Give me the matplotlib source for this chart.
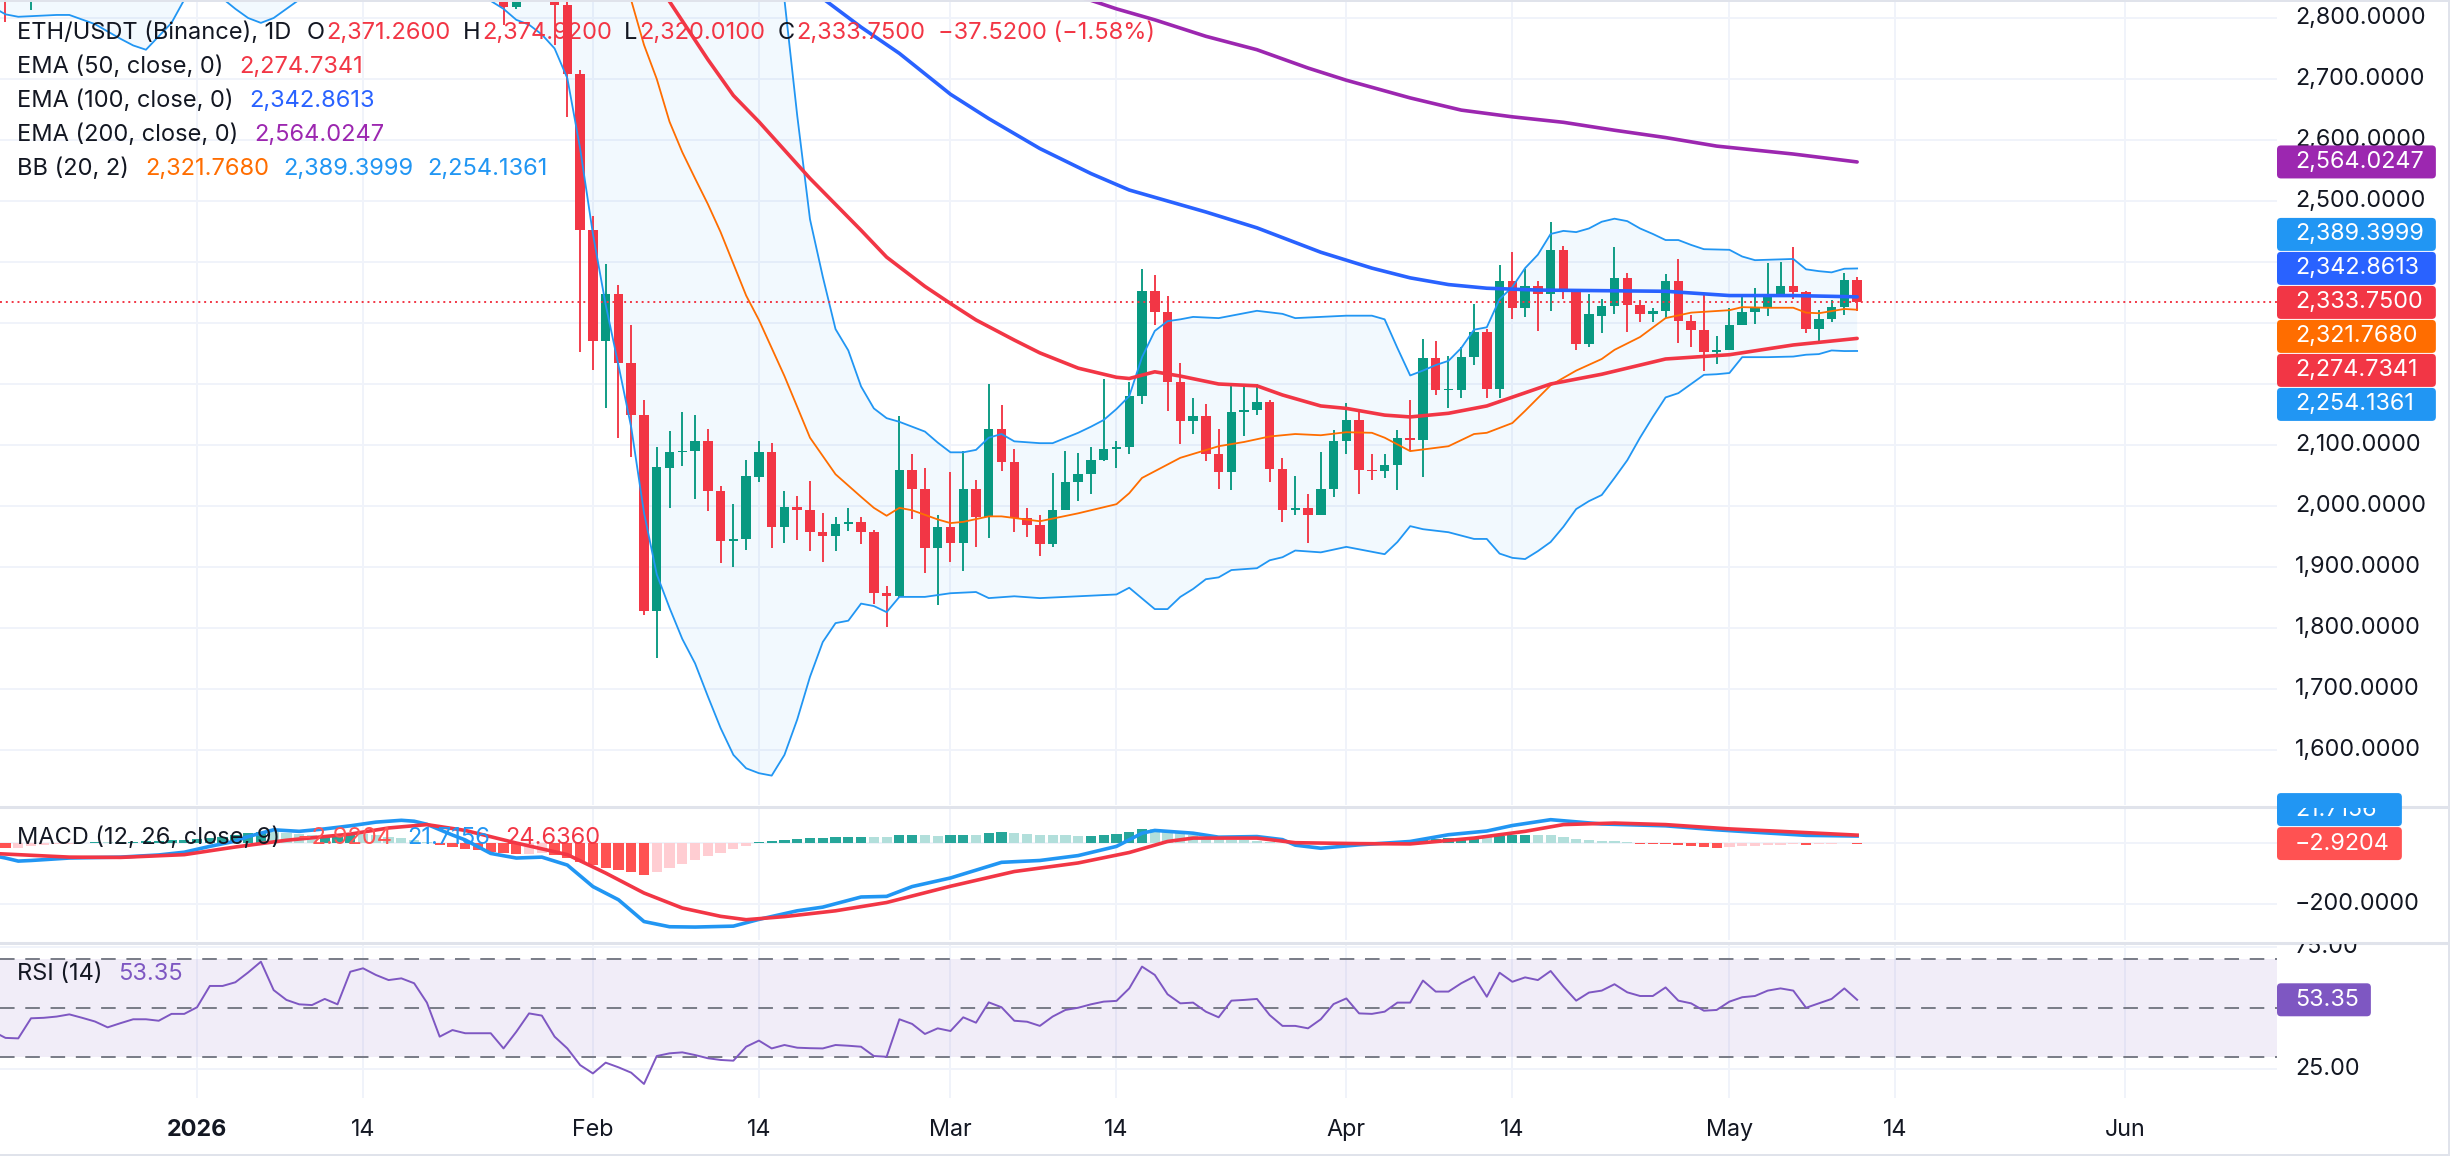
import numpy as np
import pandas as pd
import matplotlib
matplotlib.use("Agg")
import matplotlib.pyplot as plt
import matplotlib.dates as mdates
from matplotlib.patches import FancyBboxPatch
from matplotlib.transforms import Bbox

plt.rcParams['font.family'] = ['Inter', 'DejaVu Sans']
nan = np.nan

# ======================= DATA =======================
symbol_title = "ETH/USDT (Binance), 1D"
base_date = "2026-01-01"          # day offsets below are counted from this date

# daily candles, 2026-01-25 .. 2026-05-11 (nan = candle above the visible range)
candle_start = "2026-01-25"
c_open = [2845, 2818, nan, nan, 2862, 2822, 2709, 2453, 2271, 2347,
          2234, 2149, 1828, 2063, 2088, 2090, 2106, 2024, 1942, 1946,
          2048, 2088, 1966, 1999, 1993, 1957, 1951, 1971, 1973, 1958,
          1857, 1852, 2059, 2028, 1931, 1966, 1940, 2028, 1982, 2127,
          2072, 1980, 1969, 1937, 1993, 2039, 2052, 2075, 2093, 2097,
          2180, 2353, 2318, 2204, 2139, 2147, 2086, 2055, 2154, 2157,
          2170, 2061, 1993, 1997, 1986, 2028, 2107, 2141, 2059, 2057,
          2068, 2112, 2109, 2242, 2190, 2190, 2245, 2285, 2192, 2369,
          2324, 2361, 2347, 2420, 2351, 2265, 2311, 2328, 2374, 2329,
          2315, 2320, 2369, 2304, 2289, 2253, 2256, 2296, 2318, 2324,
          2347, 2361, 2351, 2290, 2307, 2327, 2371.26]
c_high = [2880, 2870, nan, nan, 2890, 2840, 2714, 2475, 2397, 2362,
          2296, 2174, 2096, 2123, 2154, 2149, 2126, 2033, 2003, 2075,
          2106, 2104, 2024, 2016, 2041, 1988, 1982, 1997, 1982, 1960,
          1869, 2148, 2085, 2063, 1985, 2055, 2090, 2042, 2200, 2165,
          2093, 1997, 1985, 2054, 2090, 2087, 2096, 2209, 2106, 2204,
          2388, 2378, 2345, 2234, 2177, 2167, 2127, 2200, 2198, 2200,
          2174, 2079, 2050, 2020, 2088, 2125, 2169, 2154, 2085, 2086,
          2125, 2174, 2274, 2271, 2246, 2260, 2331, 2290, 2395, 2417,
          2389, 2369, 2466, 2427, 2356, 2347, 2339, 2425, 2382, 2338,
          2325, 2380, 2405, 2313, 2347, 2279, 2325, 2344, 2358, 2398,
          2400, 2425, 2353, 2321, 2338, 2382, 2374.92]
c_low = [2789, 2815, nan, nan, 2756, 2638, 2252, 2223, 2160, 2112,
         2081, 1822, 1751, 1997, 2066, 2012, 1991, 1906, 1900, 1928,
         2040, 1931, 1939, 1944, 1926, 1909, 1926, 1959, 1937, 1840,
         1801, 1851, 1979, 1890, 1838, 1909, 1893, 1933, 1947, 2057,
         1958, 1950, 1918, 1933, 1993, 2009, 2019, 2074, 2063, 2086,
         2167, 2296, 2156, 2101, 2118, 2074, 2028, 2026, 2115, 2149,
         2039, 1974, 1986, 1940, 1985, 2014, 2085, 2019, 2043, 2046,
         2026, 2090, 2047, 2182, 2160, 2177, 2231, 2177, 2177, 2306,
         2310, 2287, 2320, 2340, 2255, 2260, 2284, 2315, 2285, 2301,
         2301, 2308, 2268, 2260, 2222, 2232, 2256, 2296, 2298, 2311,
         2347, 2340, 2283, 2267, 2302, 2313, 2320.01]
c_close = [2818, 2850, nan, nan, 2822, 2709, 2453, 2271, 2347, 2234,
           2149, 1828, 2064, 2088, 2090, 2106, 2024, 1942, 1946, 2050,
           2088, 1966, 1999, 1993, 1957, 1951, 1971, 1973, 1958, 1857,
           1852, 2059, 2028, 1931, 1966, 1940, 2028, 1982, 2127, 2072,
           1980, 1969, 1937, 1993, 2039, 2052, 2075, 2093, 2097, 2180,
           2353, 2318, 2204, 2139, 2147, 2086, 2055, 2154, 2157, 2170,
           2061, 1993, 1997, 1986, 2028, 2107, 2141, 2059, 2057, 2068,
           2112, 2109, 2242, 2190, 2192, 2245, 2285, 2192, 2369, 2324,
           2361, 2347, 2420, 2351, 2265, 2315, 2328, 2374, 2329, 2315,
           2320, 2369, 2304, 2289, 2253, 2256, 2296, 2318, 2324, 2347,
           2361, 2351, 2290, 2307, 2327, 2371.27, 2333.75]

# December candles whose lower wicks reach into the top of the chart
dec_dates = ["2025-12-17", "2025-12-19"]
dec_open = [2868, 2840]
dec_high = [2900, 2880]
dec_low = [2793, 2813]
dec_close = [2850, 2862]

# EMA 50
ema50_days = [36, 37, 40, 42, 44, 48, 52, 54, 57, 59, 61, 64, 66, 69, 72, 73, 75, 77, 80,
              83, 85, 88, 90, 93, 95, 98, 101, 106, 110, 115, 120, 125, 130]
ema50_vals = [2858, 2827, 2732, 2673, 2630, 2537, 2452, 2408, 2360, 2332, 2305, 2272, 2251,
              2226, 2211, 2209, 2220, 2213, 2200, 2197, 2182, 2164, 2160, 2149, 2146, 2152,
              2164, 2200, 2216, 2241, 2248, 2264, 2274.7341]
# EMA 100
ema100_days = [48, 49, 52, 55, 59, 62, 66, 70, 73, 76, 79, 83, 88, 92, 95, 98, 101, 105,
               110, 115, 120, 125, 130]
ema100_vals = [2850, 2832, 2785, 2742, 2675, 2635, 2586, 2545, 2518, 2500, 2482, 2456, 2416,
               2390, 2374, 2363, 2357, 2354, 2353, 2352, 2345, 2345, 2342.8613]
# EMA 200
ema200_days = [68, 70, 72, 75, 79, 83, 87, 90, 95, 99, 103, 107, 111, 115, 119, 125, 130]
ema200_vals = [2838, 2829, 2815, 2797, 2770, 2748, 2718, 2698, 2669, 2649, 2638, 2629, 2616,
               2604, 2590, 2577, 2564.0247]
# Bollinger basis
bb_mid_days = [33, 34, 35, 36, 37, 38, 39, 40, 41, 43, 44, 46, 48, 50, 52, 53, 54, 55, 56, 58,
               59, 60, 62, 63, 66, 69, 72, 73, 74, 77, 80, 82, 84, 86, 88, 90, 92, 93, 95,
               98, 100, 101, 103, 104, 106, 108, 110, 111, 113, 115, 117, 120, 121, 123,
               125, 126, 127, 129, 130]
bb_mid_vals = [2850, 2829, 2756, 2700, 2630, 2580, 2537, 2495, 2449, 2345, 2305, 2213, 2112,
               2052, 2015, 1997, 1984, 1997, 1993, 1978, 1972, 1974, 1983, 1983, 1975, 1988,
               2003, 2021, 2046, 2079, 2098, 2105, 2114, 2118, 2116, 2121, 2120, 2112, 2090,
               2098, 2118, 2120, 2136, 2156, 2198, 2222, 2241, 2256, 2277, 2308, 2317, 2321,
               2326, 2325, 2325, 2317, 2316, 2323, 2321.7680]
# Bollinger upper band
bb_up_days = [-16, 44, 45, 46, 47, 48, 49, 50, 51, 52, 53, 54, 55, 56, 57, 58, 59, 60, 61, 62,
              63, 64, 66, 67, 69, 70, 71, 72, 73, 74, 75, 76, 77, 78, 80, 83, 85, 86, 88, 90,
              92, 93, 94, 95, 96, 97, 98, 99, 100, 101, 102, 103, 104, 105, 106, 107, 108,
              109, 110, 111, 112, 113, 114, 115, 116, 117, 118, 120, 121, 122, 125, 126,
              127, 128, 129, 130]
bb_up_vals = [3250, 3080, 2960, 2830, 2640, 2470, 2376, 2290, 2255, 2196, 2160, 2144, 2138,
              2130, 2122, 2104, 2088, 2088, 2092, 2112, 2118, 2106, 2103, 2103, 2120, 2130,
              2141, 2159, 2180, 2244, 2287, 2303, 2306, 2310, 2308, 2320, 2315, 2308, 2310,
              2312, 2312, 2306, 2259, 2214, 2222, 2231, 2238, 2259, 2289, 2293, 2339, 2359,
              2390, 2412, 2446, 2451, 2449, 2455, 2466, 2471, 2467, 2455, 2446, 2436, 2436,
              2428, 2421, 2420, 2409, 2403, 2405, 2388, 2385, 2383, 2389, 2389.3999]
# Bollinger lower band
bb_lo_days = [-16, -15, -14, -13, -12, -11, -10, -8, -6, -5, -4, -3, -2, -1, 0, 1, 2, 3, 4, 5,
              6, 7, 8, 9, 15, 22, 23, 24, 25, 26, 27, 28, 29, 30, 31, 32, 33, 34, 35, 36, 37,
              38, 39, 40, 41, 42, 43, 44, 45, 46, 47, 48, 49, 50, 51, 52, 53, 54, 55, 57, 59,
              61, 62, 64, 66, 69, 72, 73, 75, 76, 77, 78, 79, 80, 81, 83, 84, 85, 86, 88, 90,
              93, 94, 95, 96, 98, 100, 101, 102, 103, 104, 105, 106, 107, 108, 109, 110, 111,
              112, 113, 114, 115, 116, 117, 118, 119, 120, 121, 123, 125, 126, 127, 128, 129,
              130]
bb_lo_vals = [2818, 2806, 2802, 2803, 2804, 2805, 2805, 2790, 2766, 2755, 2748, 2770, 2792,
              2830, 2850, 2845, 2832, 2815, 2800, 2792, 2800, 2815, 2830, 2848, 2880, 2850,
              2828, 2815, 2797, 2789, 2773, 2750, 2701, 2586, 2446, 2330, 2231, 2129, 1989,
              1888, 1833, 1782, 1742, 1688, 1636, 1592, 1570, 1562, 1558, 1592, 1650, 1720,
              1777, 1808, 1812, 1840, 1836, 1826, 1851, 1851, 1857, 1859, 1849, 1852, 1849,
              1852, 1855, 1866, 1831, 1831, 1851, 1864, 1880, 1883, 1895, 1898, 1911, 1916,
              1927, 1924, 1933, 1921, 1941, 1967, 1962, 1957, 1946, 1946, 1922, 1915, 1913,
              1926, 1941, 1966, 1995, 2008, 2018, 2046, 2075, 2112, 2146, 2178, 2185, 2200,
              2215, 2216, 2218, 2244, 2244, 2245, 2248, 2249, 2255, 2254, 2254.1361]

# MACD (12, 26, 9)
macd_days = [-16, -15, -14, -13, -10, -6, -3, -1, 1, 3, 4, 6, 8, 10, 12, 14, 16, 17, 18, 20,
             21, 23, 25, 27, 29, 31, 33, 35, 37, 39, 42, 44, 47, 49, 52, 54, 56, 59, 63, 66,
             69, 72, 74, 75, 78, 80, 83, 85, 86, 88, 91, 95, 98, 101, 103, 106, 108, 110,
             115, 119, 122, 126, 130]
macd_vals = [-42, -50, -60, -58, -50, -47, -40, -31, -12, 5, 20, 42, 37, 45, 55, 67, 73, 70,
             60, 25, 9, -35, -50, -47, -73, -143, -186, -257, -274, -275, -272, -250, -222,
             -210, -177, -175, -143, -115, -64, -58, -42, -12, 31, 40, 31, 18, 20, 10, -8,
             -18, -7, 4, 26, 38, 56, 75, 68, 61, 55, 42, 34, 24, 21.7156]
signal_days = [-16, -10, -6, -1, 3, 7, 12, 15, 18, 21, 25, 29, 32, 35, 38, 41, 43, 46, 50, 54,
               59, 64, 69, 73, 76, 78, 83, 86, 91, 95, 100, 104, 107, 111, 115, 120, 124, 130]
signal_vals = [-35, -47, -48, -39, -14, 8, 28, 48, 59, 40, -1, -39, -99, -164, -213, -240,
               -251, -241, -222, -195, -142, -94, -66, -32, 4, 15, 15, 0, -3, -4, 15, 37, 59,
               64, 59, 45, 37, 24.6360]
# histogram, one bar per day from day -15 to day 130
hist_start_day = -15
hist_vals = [-17, -16, -12, -8, -5, -3, -1, 1, 1, 2,
             3, 4, 6, 8, 10, 12, 16, 20, 24, 30,
             36, 34, 30, 27, 25, 26, 27, 30, 28, 24,
             20, 16, 10, 2, -6, -14, -20, -24, -30, -35,
             -38, -36, -33, -40, -50, -62, -74, -82, -88, -96,
             -105, -95, -82, -70, -58, -45, -34, -22, -10, 3,
             6, 9, 12, 14, 16, 17, 18, 20, 19, 18,
             25, 26, 24, 23, 24, 26, 25, 32, 34, 30,
             28, 25, 24, 24, 22, 23, 24, 27, 35, 44,
             44, 37, 30, 24, 17, 12, 10, 9, 7, 3,
             -2, -3, -4, -3, -1, 1, 2, 2, 3, 5,
             7, 10, 13, 14, 15, 17, 17, 21, 24, 25,
             25, 24, 19, 13, 9, 6, 5, 3, -3, -5,
             -5, -8, -10, -14, -17, -14, -12, -10, -8, -6,
             -5, -6, -5, -3, -2, -2.9204]

# RSI (14), one value per day from day -16 to day 130
rsi_start_day = -16
rsi_vals = [40.5, 37.8, 37.6, 45.8, 46.0, 46.5, 47.4, 46.0, 44.5, 42.1,
            43.8, 45.4, 45.4, 44.8, 47.6, 47.6, 50.3, 59.0, 59.0, 60.5,
            64.5, 68.9, 57.3, 53.3, 51.5, 51.2, 53.7, 51.5, 64.8, 66.2,
            63.5, 61.4, 62.1, 60.1, 52.2, 38.3, 41.0, 39.7, 39.7, 39.7,
            33.5, 40.3, 47.8, 46.9, 38.3, 33.5, 26.7, 23.3, 27.7, 25.8,
            23.6, 19.0, 30.4, 31.5, 31.9, 30.8, 29.5, 28.8, 28.5, 34.2,
            36.7, 33.5, 34.9, 33.8, 33.6, 33.5, 34.9, 34.6, 34.2, 30.4,
            30.1, 45.4, 43.5, 39.4, 41.7, 40.6, 46.2, 44.0, 52.3, 50.3,
            44.8, 44.4, 42.7, 46.5, 49.2, 50.1, 51.5, 52.6, 52.9, 58.0,
            66.9, 63.5, 55.6, 51.9, 52.2, 48.5, 46.2, 53.0, 53.3, 53.7,
            47.1, 42.7, 42.7, 41.7, 45.4, 51.6, 53.9, 47.8, 47.6, 48.5,
            52.2, 52.2, 61.2, 56.7, 56.7, 60.1, 62.8, 54.6, 64.4, 60.7,
            62.5, 61.4, 65.1, 58.7, 53.0, 56.3, 57.1, 59.7, 56.4, 54.9,
            54.9, 58.4, 53.0, 51.9, 48.9, 49.2, 52.6, 54.4, 54.9, 57.1,
            58.0, 57.1, 50.1, 51.9, 53.7, 58.0, 53.35]

# time axis
tick_dates = ["2026-01-01", "2026-01-14", "2026-02-01", "2026-02-14", "2026-03-01",
              "2026-03-14", "2026-04-01", "2026-04-14", "2026-05-01", "2026-05-14",
              "2026-06-01"]
tick_labels = ["2026", "14", "Feb", "14", "Mar", "14", "Apr", "14", "May", "14", "Jun"]
price_ticks = [1600, 1700, 1800, 1900, 2000, 2100, 2200, 2300, 2400, 2500, 2600, 2700, 2800]
macd_ticks = [-200]
rsi_ticks = [75, 25]

# ======================= STYLE / LAYOUT =======================
W, H = 2450, 1156
UP, DOWN = '#089981', '#F23645'
TXT = '#131722'
GRID = '#F0F3FA'
SEP = '#E0E3EB'
C_EMA50, C_EMA100, C_EMA200 = '#F23645', '#2962FF', '#9C27B0'
C_BBM, C_BB = '#FF6D00', '#2196F3'
C_MACD, C_SIG = '#2196F3', '#F23645'
C_RSI = '#7E57C2'
FS_AX = 16.8
FS_LG = 17.0

base = mdates.date2num(pd.Timestamp(base_date))


def dn(days):
    return base + np.asarray(days, dtype=float)


fig = plt.figure(figsize=(W / 100, H / 100), dpi=100)
fig.patch.set_facecolor('white')


def add_px_axes(left, top, right, bottom):
    return fig.add_axes([left / W, 1 - bottom / H, (right - left) / W, (bottom - top) / H])


PLOT_R = 2277
ax_p = add_px_axes(0, 0, PLOT_R, 805)
ax_m = add_px_axes(0, 808, PLOT_R, 940)
ax_s = add_px_axes(0, 944, PLOT_R, 1098)
for ax in (ax_p, ax_m, ax_s):
    ax.set_xlim(dn(-15.43), dn(162.88))
    ax.set_axis_off()
ax_p.set_ylim(1509.84, 2829.51)
ax_m.set_ylim(-317.2, 113.1)
ax_s.set_ylim(13.27, 76.12)

tick_x = mdates.date2num(pd.to_datetime(tick_dates))
for ax in (ax_p, ax_m, ax_s):
    for tx in tick_x:
        ax.axvline(tx, color=GRID, lw=1.4, zorder=0)
for p in price_ticks:
    ax_p.axhline(p, color=GRID, lw=1.4, zorder=0)
for v in [0] + macd_ticks:
    ax_m.axhline(v, color=GRID, lw=1.4, zorder=0)
for v in rsi_ticks:
    ax_s.axhline(v, color=GRID, lw=1.4, zorder=0)

# ---- Bollinger bands ----
ax_p.fill(np.concatenate([dn(bb_up_days), dn(bb_lo_days)[::-1]]),
          np.concatenate([bb_up_vals, bb_lo_vals[::-1]]),
          color=C_BB, alpha=0.055, lw=0, zorder=1)
ax_p.plot(dn(bb_up_days), bb_up_vals, color=C_BB, lw=1.3, zorder=5)
ax_p.plot(dn(bb_lo_days), bb_lo_vals, color=C_BB, lw=1.3, zorder=5)
ax_p.plot(dn(bb_mid_days), bb_mid_vals, color=C_BBM, lw=1.3, zorder=5)

# ---- candles ----
cx = mdates.date2num(pd.date_range(candle_start, periods=len(c_open)))
dx = mdates.date2num(pd.to_datetime(dec_dates))
X = np.concatenate([dx, cx])
O = np.concatenate([dec_open, c_open]).astype(float)
Hh = np.concatenate([dec_high, c_high]).astype(float)
L = np.concatenate([dec_low, c_low]).astype(float)
C = np.concatenate([dec_close, c_close]).astype(float)
ok = ~np.isnan(O)
X, O, Hh, L, C = X[ok], O[ok], Hh[ok], L[ok], C[ok]
cols = np.where(C >= O, UP, DOWN)
ax_p.vlines(X, L, Hh, colors=cols, lw=1.35, zorder=3)
body_lo = np.minimum(O, C)
body_h = np.maximum(np.abs(C - O), 2.6)
ax_p.bar(X, body_h, bottom=body_lo, width=0.74, color=cols, lw=0, zorder=4)

# ---- EMAs ----
ax_p.plot(dn(ema200_days), ema200_vals, color=C_EMA200, lw=2.6, zorder=6, solid_capstyle='round')
ax_p.plot(dn(ema100_days), ema100_vals, color=C_EMA100, lw=2.6, zorder=6, solid_capstyle='round')
ax_p.plot(dn(ema50_days), ema50_vals, color=C_EMA50, lw=2.6, zorder=6, solid_capstyle='round')

# current price line
ax_p.axhline(c_close[-1], color=DOWN, lw=1.4, ls=(0, (1, 2)), zorder=7)

# ---- MACD ----
hx = dn(np.arange(hist_start_day, hist_start_day + len(hist_vals)))
hcols = []
prev = hist_vals[0]
for v in hist_vals:
    if v >= 0:
        hcols.append('#26A69A' if v > prev else '#B2DFDB')
    else:
        hcols.append('#FFCDD2' if v > prev else '#FF5252')
    prev = v
ax_m.bar(hx, hist_vals, width=0.8, color=hcols, lw=0, zorder=2)
ax_m.plot(dn(macd_days), macd_vals, color=C_MACD, lw=2.6, zorder=3)
ax_m.plot(dn(signal_days), signal_vals, color=C_SIG, lw=2.6, zorder=4)

# ---- RSI ----
ax_s.axhspan(30, 70, color=C_RSI, alpha=0.1, lw=0, zorder=1)
for lv in (70, 50, 30):
    ax_s.axhline(lv, color='#787B86', lw=1.4, ls=(0, (7.5, 5.5)), zorder=2)
rx = dn(np.arange(rsi_start_day, rsi_start_day + len(rsi_vals)))
ax_s.plot(rx, rsi_vals, color=C_RSI, lw=1.4, zorder=3)

# ======================= OVERLAY (texts, scale labels) =======================
ov = fig.add_axes([0, 0, 1, 1])
ov.set_xlim(0, W)
ov.set_ylim(H, 0)
ov.set_axis_off()
ov.set_zorder(20)
ov.patch.set_visible(False)
renderer = fig.canvas.get_renderer()


def to_py(ax, y):
    return H - ax.transData.transform((ax.get_xlim()[0], y))[1]


def clip_bb(top, bottom, left=0, right=W):
    return Bbox.from_extents(left, H - bottom, right, H - top)


def segs(x, y, parts, size=FS_LG):
    for txt, col, gap in parts:
        t = ov.text(x, y, txt, color=col, fontsize=size, ha='left', va='center')
        x += t.get_window_extent(renderer).width + gap


def fmt(v, nd=4):
    s = f"{v:,.{nd}f}"
    return s.replace('-', '\u2212')


# legends
o_, h_, l_, c_ = c_open[-1], c_high[-1], c_low[-1], c_close[-1]
chg = c_close[-1] - c_close[-2]
pct = chg / c_close[-2] * 100
segs(17, 33, [(symbol_title, TXT, 15), ('O', TXT, 2), (fmt(o_), DOWN, 12), ('H', TXT, 2),
              (fmt(h_), DOWN, 12), ('L', TXT, 2), (fmt(l_), DOWN, 12), ('C', TXT, 2),
              (fmt(c_), DOWN, 13), (f"{fmt(chg)} ({fmt(pct, 2)}%)", DOWN, 0)])
segs(17, 67, [('EMA (50, close, 0)', TXT, 16), (fmt(ema50_vals[-1]), C_EMA50, 0)])
segs(17, 101, [('EMA (100, close, 0)', TXT, 16), (fmt(ema100_vals[-1]), C_EMA100, 0)])
segs(17, 135, [('EMA (200, close, 0)', TXT, 16), (fmt(ema200_vals[-1]), C_EMA200, 0)])
segs(17, 169, [('BB (20, 2)', TXT, 16), (fmt(bb_mid_vals[-1]), C_BBM, 14),
               (fmt(bb_up_vals[-1]), C_BB, 14), (fmt(bb_lo_vals[-1]), C_BB, 0)])
segs(17, 838, [('MACD (12, 26, close, 9)', TXT, 16), (fmt(hist_vals[-1]), '#FF5252', 15),
               (fmt(macd_vals[-1]), C_MACD, 15), (fmt(signal_vals[-1]), C_SIG, 0)])
segs(17, 974, [('RSI (14)', TXT, 16), (fmt(rsi_vals[-1], 2), C_RSI, 0)])

# right scale
LX = 2295
main_clip = clip_bb(0, 805, PLOT_R, W)
macd_clip = clip_bb(808, 940, PLOT_R, W)
rsi_clip = clip_bb(944, 1098, PLOT_R, W)


def stack(items, anchor_idx, spacing=34):
    # items ordered top->bottom; returns pixel centres that avoid overlap
    ys = [None] * len(items)
    ys[anchor_idx] = items[anchor_idx][2]
    for i in range(anchor_idx - 1, -1, -1):
        ys[i] = min(items[i][2], ys[i + 1] - spacing)
    for i in range(anchor_idx + 1, len(items)):
        ys[i] = max(items[i][2], ys[i - 1] + spacing)
    return ys


def draw_boxes(items, ys, clip):
    texts = []
    for (txt, col, _), y in zip(items, ys):
        t = ov.text(LX, y, txt, color='white', fontsize=FS_AX, ha='left', va='center', zorder=5)
        t.set_clip_box(clip); t.set_clip_on(True)
        texts.append(t)
    wmax = max(t.get_window_extent(renderer).width for t in texts)
    for (txt, col, _), y in zip(items, ys):
        b = FancyBboxPatch((PLOT_R, y - 16.5), (LX - PLOT_R) + wmax + 12, 33,
                           boxstyle='round,pad=0,rounding_size=4', fc=col, ec='none', zorder=4)
        b.set_clip_box(clip); b.set_clip_on(True)
        ov.add_patch(b)


def scale_ticks(ax, ticks, labels, clip, box_ys):
    for v, lab in zip(ticks, labels):
        y = to_py(ax, v)
        if any(abs(y - by) < 20.5 for by in box_ys):
            continue          # covered by a value label, as on the reference
        t = ov.text(LX, y, lab, color=TXT, fontsize=FS_AX, ha='left', va='center')
        t.set_clip_box(clip); t.set_clip_on(True)


main_items = [(fmt(ema200_vals[-1]), C_EMA200, to_py(ax_p, ema200_vals[-1])),
              (fmt(bb_up_vals[-1]), C_BB, to_py(ax_p, bb_up_vals[-1])),
              (fmt(ema100_vals[-1]), C_EMA100, to_py(ax_p, ema100_vals[-1])),
              (fmt(c_close[-1]), DOWN, to_py(ax_p, c_close[-1])),
              (fmt(bb_mid_vals[-1]), C_BBM, to_py(ax_p, bb_mid_vals[-1])),
              (fmt(ema50_vals[-1]), C_EMA50, to_py(ax_p, ema50_vals[-1])),
              (fmt(bb_lo_vals[-1]), C_BB, to_py(ax_p, bb_lo_vals[-1]))]
main_ys = stack(main_items, 3)
macd_items = [(fmt(macd_vals[-1]), C_MACD, to_py(ax_m, macd_vals[-1])),
              (fmt(hist_vals[-1]), '#FF5252', to_py(ax_m, hist_vals[-1]))]
macd_ys = stack(macd_items, 1)
rsi_items = [(f"{rsi_vals[-1]:.2f}", C_RSI, to_py(ax_s, rsi_vals[-1]))]
rsi_ys = stack(rsi_items, 0)

scale_ticks(ax_p, price_ticks, [fmt(p) for p in price_ticks], main_clip, main_ys)
scale_ticks(ax_m, macd_ticks, [fmt(v) for v in macd_ticks], macd_clip, macd_ys)
scale_ticks(ax_s, rsi_ticks, [f"{v:.2f}" for v in rsi_ticks], rsi_clip, rsi_ys)

draw_boxes(main_items, main_ys, main_clip)
draw_boxes(macd_items, macd_ys, macd_clip)
draw_boxes(rsi_items, rsi_ys, rsi_clip)

# time axis labels
for tx, lab in zip(tick_x, tick_labels):
    px = ax_s.transData.transform((tx, 50))[0]
    ov.text(px, 1130, lab, color=TXT, fontsize=FS_AX, ha='center', va='center',
            fontweight='bold' if lab.isdigit() and len(lab) == 4 else 'normal')

# separators and borders
ov.plot([0, W], [806.5, 806.5], color=SEP, lw=2.2)
ov.plot([0, W], [942.5, 942.5], color=SEP, lw=2.2)
ov.plot([0, W], [1, 1], color=SEP, lw=1.4)
ov.plot([0, W], [1155, 1155], color=SEP, lw=1.4)
ov.plot([W - 1.5, W - 1.5], [0, H], color=SEP, lw=1.4)

fig.savefig('out.png', dpi=100, facecolor='white')
